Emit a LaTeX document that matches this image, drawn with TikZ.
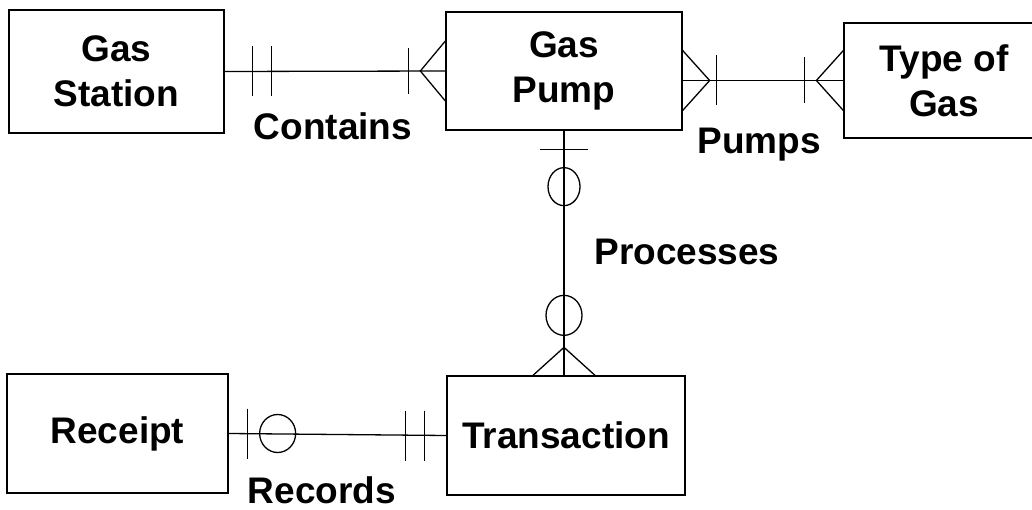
\documentclass[tikz,border=0pt]{standalone}
\usepackage{fontspec}
\setmainfont{Liberation Sans}
\usetikzlibrary{calc, positioning}

\begin{document}
\begin{tikzpicture}[
  x=1pt, y=-1pt,
  entity/.style={
    rectangle, draw=black, line width=1.3pt, fill=white,
    font=\fontsize{37}{45}\selectfont\bfseries,
    align=center, inner sep=0pt
  },
  relname/.style={
    font=\fontsize{37}{45}\selectfont\bfseries, inner sep=0pt
  },
  relline/.style={line width=1.3pt, color=black}
]
\useasboundingbox (0,0) rectangle (1032,510);

\node[entity, minimum width=215pt, minimum height=123pt] (station) at (116.5,71.5) {Gas\\Station};
\node[entity, minimum width=236pt, minimum height=118pt] (pump)    at (564,71)     {Gas\\Pump};
\node[entity, minimum width=200pt, minimum height=115pt] (gastype) at (944,80.5)   {Type of\\Gas};
\node[entity, minimum width=221pt, minimum height=119pt] (receipt) at (117.5,433.5) {Receipt};
\node[entity, minimum width=238pt, minimum height=119pt] (trans)   at (566,435.5)  {Transaction};

\node[relname, anchor=base] (contains)  at (333,140) {Contains};
\node[relname] (pumps)     at (759,145) {Pumps};
\node[relname] (processes) at (687,252) {Processes};
\node[relname, anchor=base, text depth=0pt] (records) at (322,503) {Records};

% Contains: one and only one -- one or many
\draw[relline] (station.east) -- (pump.west);
\draw[relline] ($(station.east)+(28,-25)$) -- ++(0,50);
\draw[relline] ($(station.east)+(47,-25)$) -- ++(0,50);
\draw[relline] ($(pump.west)+(-37,-23)$) -- ++(0,46);
\draw[relline] ($(pump.west)+(0,-30)$) -- ($(pump.west)+(-25,0)$) -- ($(pump.west)+(0,30)$);

% Pumps: one or many -- one or many
\draw[relline] (pump.east |- gastype.west) -- (gastype.west);
\draw[relline] ($(pump.east |- gastype.west)+(0,-30)$) -- ($(pump.east |- gastype.west)+(27,0)$) -- ($(pump.east |- gastype.west)+(0,30)$);
\draw[relline] ($(pump.east |- gastype.west)+(34,-25)$) -- ++(0,50);
\draw[relline] ($(gastype.west)+(-39,-23)$) -- ++(0,46);
\draw[relline] ($(gastype.west)+(0,-30)$) -- ($(gastype.west)+(-27,0)$) -- ($(gastype.west)+(0,30)$);

% Processes: zero or one -- zero or many
\draw[relline] (pump.south) -- (pump.south |- trans.north);
\draw[relline] ($(pump.south)+(-24,19)$) -- ++(48,0);
\draw[relline] ($(pump.south)+(0,56)$) ellipse [x radius=16, y radius=19];
\draw[relline] ($(pump.south |- trans.north)+(0,-60)$) ellipse [x radius=18, y radius=20];
\draw[relline] ($(pump.south |- trans.north)+(-31,0)$) -- ($(pump.south |- trans.north)+(0,-28)$) -- ($(pump.south |- trans.north)+(31,0)$);

% Records: zero or one -- one and only one
\draw[relline] (receipt.east) -- (trans.west);
\draw[relline] ($(receipt.east)+(19,-25)$) -- ++(0,50);
\draw[relline] ($(receipt.east)+(49,0)$) ellipse [x radius=18, y radius=19];
\draw[relline] ($(trans.west)+(-41,-25)$) -- ++(0,50);
\draw[relline] ($(trans.west)+(-22,-25)$) -- ++(0,50);
\end{tikzpicture}
\end{document}
